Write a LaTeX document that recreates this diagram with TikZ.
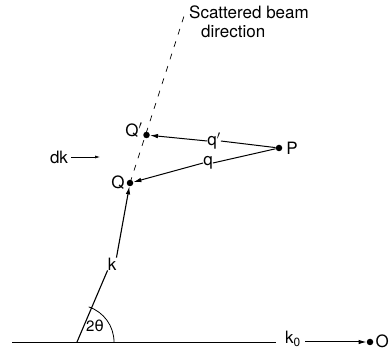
\documentclass[tikz,border=0pt]{standalone}
\usepackage{fontspec}
\setmainfont{TeX Gyre Heros}
\newfontfamily\dejavu{DejaVu Sans}
\usetikzlibrary{arrows.meta}
\begin{document}
\begin{tikzpicture}[x=1pt,y=-1pt,
  vec/.style={line width=1.1pt,-{Latex[length=8pt,width=4.5pt]}},
  dotpt/.style={circle,fill=black,inner sep=0pt,minimum size=6.5pt},
  lbl/.style={font=\fontsize{17}{19}\selectfont,inner sep=1pt}]
\useasboundingbox (0,0) rectangle (389,350);
\coordinate (V) at (77,342);
\node[dotpt] (Q) at (130,183) {};
\node[dotpt] (Qp) at (146.5,135) {};
\node[dotpt] (P) at (279,148) {};
\node[dotpt] (O) at (370,342) {};
\coordinate (Top) at (186,10);
\coordinate (L) at (12,342);
\coordinate (R) at (276,342);
% baseline
\draw[line width=0.9pt] (L) -- (R);
% dashed scattered direction
\draw[line width=0.7pt,dash pattern=on 6pt off 7pt] (Q.center) -- (Top);
% k vector
\node[lbl,inner sep=0pt] (k) at (112,264) {k};
\draw[line width=1.1pt] (V) -- (k.south west);
\draw[vec] (k.north east) -- (Q);
% q vectors
\node[lbl,inner sep=0pt] (q) at (208,163) {q};
\draw[line width=1pt] (P) -- (q.east);
\draw[vec,line width=1pt] (q.west) -- (Q);
\node[lbl,inner sep=0pt] (qp) at (214,141) {q$^{\prime}$};
\draw[line width=1pt] (P) -- (qp.east);
\draw[vec,line width=1pt] (qp.west) -- (Qp);
% labels
\node[lbl] (QL) at (118,183) {Q};
\node[lbl] (QpL) at (134,130) {Q$^{\prime}$};
\node[lbl] (PL) at (292,148) {P};
\node[lbl,anchor=east,inner sep=0pt] (Ol) at (389,341) {O};
% k0
\node[lbl,inner sep=0pt] (k0) at (293,339) {k$_{\mathrm{0}}$};
\draw[vec,line width=1pt] ([xshift=4pt]k0.east|-O) -- (O);
% dk
\node[lbl,inner sep=0pt] (dk) at (59,157) {dk};
\coordinate (dkend) at (100,157);
\draw[line width=0.6pt,-{Latex[length=5pt,width=3pt]}] ([xshift=3pt]dk.east) -- (dkend);
% angle
\draw[line width=0.8pt] (V) ++(37,0) arc[start angle=0,end angle=-71.6,radius=37];
\node[lbl,font=\fontsize{15}{17}\selectfont] (th) at (95,326) {2{\dejavu θ}};
% scattered beam text
\node[lbl,anchor=north west,align=left,inner sep=0pt] (sb) at (189,6) {Scattered beam\\\hspace*{12pt}direction};
\end{tikzpicture}
\end{document}
